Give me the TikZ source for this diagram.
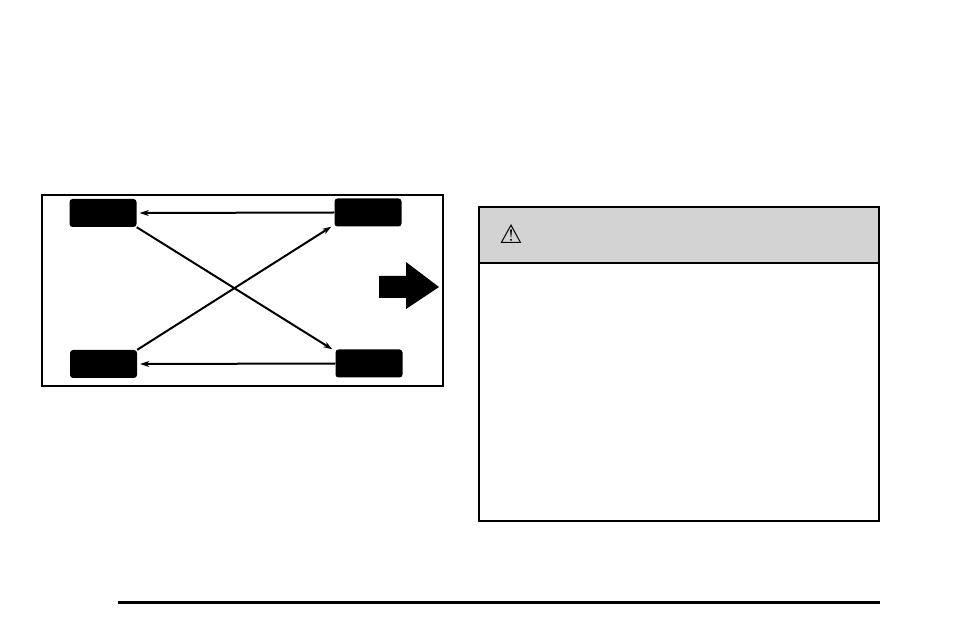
\documentclass[tikz,border=0pt]{standalone}
\usetikzlibrary{arrows.meta}
\usepackage{fontspec}
\newfontfamily\symfont{DejaVu Sans}
\definecolor{headgray}{RGB}{211,211,212}
\tikzset{
  tyre/.style={fill=black, rounded corners=3pt, minimum width=67pt, minimum height=28pt, inner sep=0pt},
  swap/.style={-{Stealth[length=9pt,width=6pt]}, line width=2pt},
}
\begin{document}
\begin{tikzpicture}[x=1pt, y=-1pt]
    \useasboundingbox (0, 0) rectangle (954, 636);
    % vehicle outline
    \draw[line width=1.6pt] (42, 195) rectangle (443, 386);
    \node[tyre] (fl) at (103, 213) {};
    \node[tyre] (fr) at (368, 212.5) {};
    \node[tyre] (rl) at (103.5, 364) {};
    \node[tyre] (rr) at (369, 363.5) {};
    \draw[swap] (fr.west) -- ([xshift=3pt]fl.east);
    \draw[swap] (rr.west) -- ([xshift=3pt]rl.east);
    \draw[swap] (fl.south east) -- ([xshift=-3pt]rr.north west);
    \draw[swap] (rl.north east) -- ([xshift=-3pt]fr.south west);
    % forward arrow
    \fill (379, 276) -- (406, 276) -- (406, 262) -- (439, 287) -- (406, 309) -- (406, 298) -- (379, 298) -- cycle;
    % warning box
    \draw[line width=2pt, fill=headgray] (479, 207) rectangle (879, 263);
    \draw[line width=2pt] (479, 263) rectangle (879, 521);
    \node (warn) at (511, 234) {\symfont\fontsize{26}{26}\selectfont ⚠};
    \draw[line width=3pt] (118, 602) -- (880, 602);
\end{tikzpicture}
\end{document}
